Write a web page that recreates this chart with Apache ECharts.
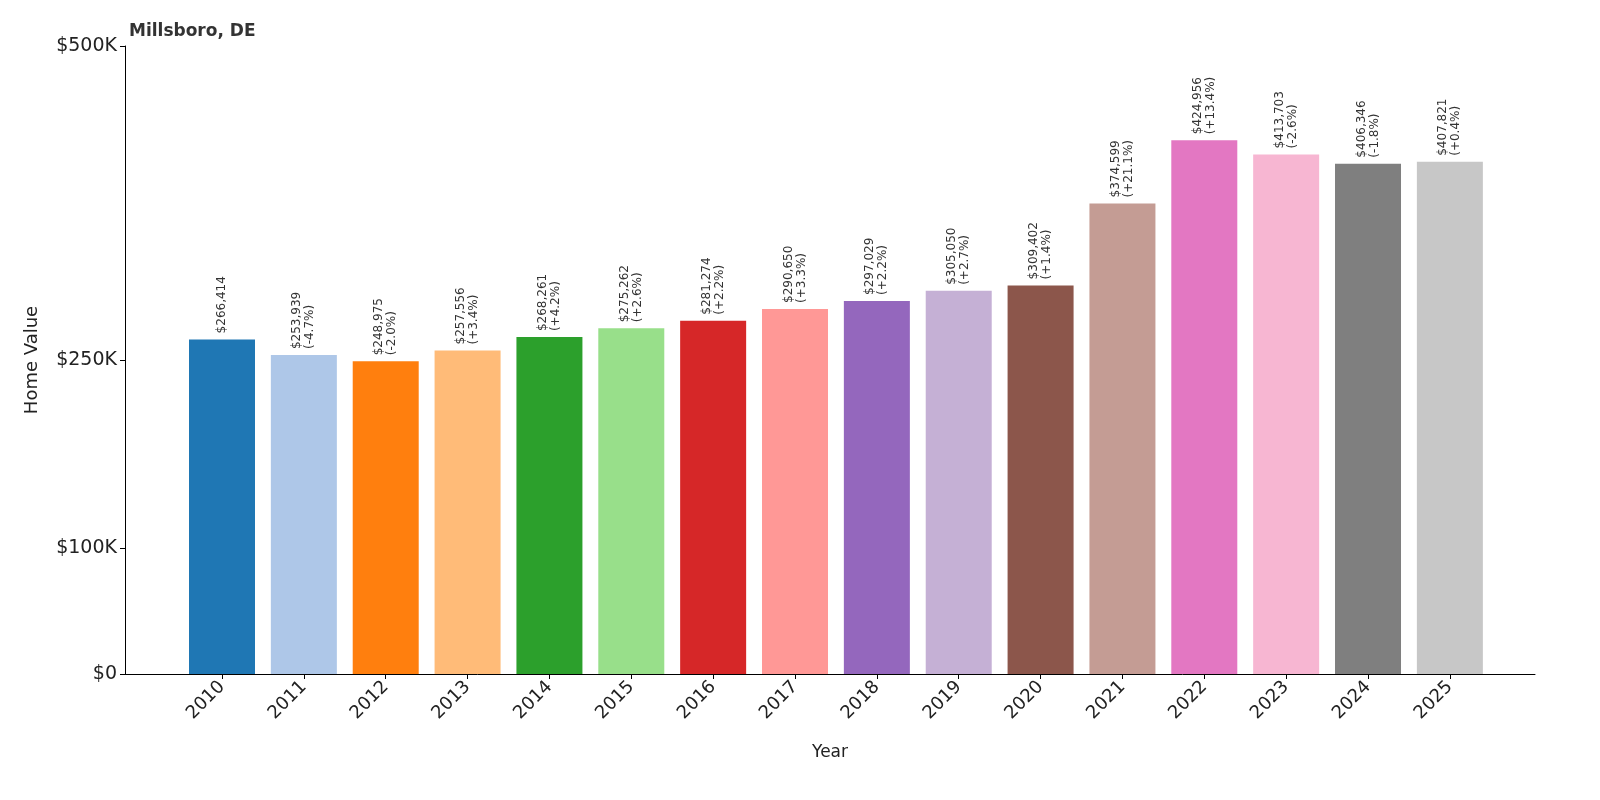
<!DOCTYPE html>
<html><head><meta charset="utf-8">
<script src="https://cdn.jsdelivr.net/npm/echarts@6/dist/echarts.min.js"></script>
<style>html,body{margin:0;padding:0;background:#fff}#c{width:1600px;height:800px}</style>
</head><body><div id="c"></div>
<script>
const years=[2010,2011,2012,2013,2014,2015,2016,2017,2018,2019,2020,2021,2022,2023,2024,2025];
const values=[266414,253939,248975,257556,268261,275262,281274,290650,297029,305050,309402,374599,424956,413703,406346,407821];
const changes=[null,'-4.7%','-2.0%','+3.4%','+4.2%','+2.6%','+2.2%','+3.3%','+2.2%','+2.7%','+1.4%','+21.1%','+13.4%','-2.6%','-1.8%','+0.4%'];
const colors=['#1f77b4','#aec7e8','#ff7f0e','#ffbb78','#2ca02c','#98df8a','#d62728','#ff9896','#9467bd','#c5b0d5','#8c564b','#c49c94','#e377c2','#f7b6d2','#7f7f7f','#c7c7c7'];
const yTicks=[0,100000,250000,500000];
const yTickLabels={0:'$0',100000:'$100K',250000:'$250K',500000:'$500K'};
const fmt=v=>'$'+v.toLocaleString('en-US');
const chart=echarts.init(document.getElementById('c'));
chart.setOption({
  animation:false,
  title:{text:'Millsboro, DE',left:124,top:18,textStyle:{fontFamily:'DejaVu Sans',fontSize:17,fontWeight:'bold',color:'#333'}},
  grid:{left:125,right:65,top:46,bottom:126},
  xAxis:{type:'value',min:2008.815,max:2026.04,name:'Year',nameLocation:'middle',nameGap:70,
    nameTextStyle:{fontFamily:'DejaVu Sans',fontSize:17,color:'#222'},
    axisLine:{show:true,lineStyle:{color:'#000'}},splitLine:{show:false},
    axisTick:{show:true,customValues:years,length:5,lineStyle:{color:'#000'}},
    axisLabel:{customValues:years,rotate:45,fontFamily:'DejaVu Sans',fontSize:18,color:'#222',formatter:v=>String(v),margin:10}},
  yAxis:{type:'value',min:0,max:500000,name:'Home Value',nameLocation:'middle',nameGap:84,
    nameTextStyle:{fontFamily:'DejaVu Sans',fontSize:18,color:'#222'},
    axisLine:{show:true,lineStyle:{color:'#000'}},splitLine:{show:false},
    axisTick:{show:true,customValues:yTicks,length:5,lineStyle:{color:'#000'}},
    axisLabel:{customValues:yTicks,fontFamily:'DejaVu Sans',fontSize:19,color:'#222',formatter:v=>yTickLabels[v]}},
  series:[{type:'bar',barWidth:66,
    data:years.map((y,i)=>({value:[y,values[i]],itemStyle:{color:colors[i]},
      label:{formatter:changes[i]?fmt(values[i])+'\n('+changes[i]+')':fmt(values[i])}})),
    label:{show:true,position:'top',rotate:90,align:'left',verticalAlign:'middle',distance:6,
      fontFamily:'DejaVu Sans',fontSize:12,color:'#333',lineHeight:13}}]
});
</script></body></html>
